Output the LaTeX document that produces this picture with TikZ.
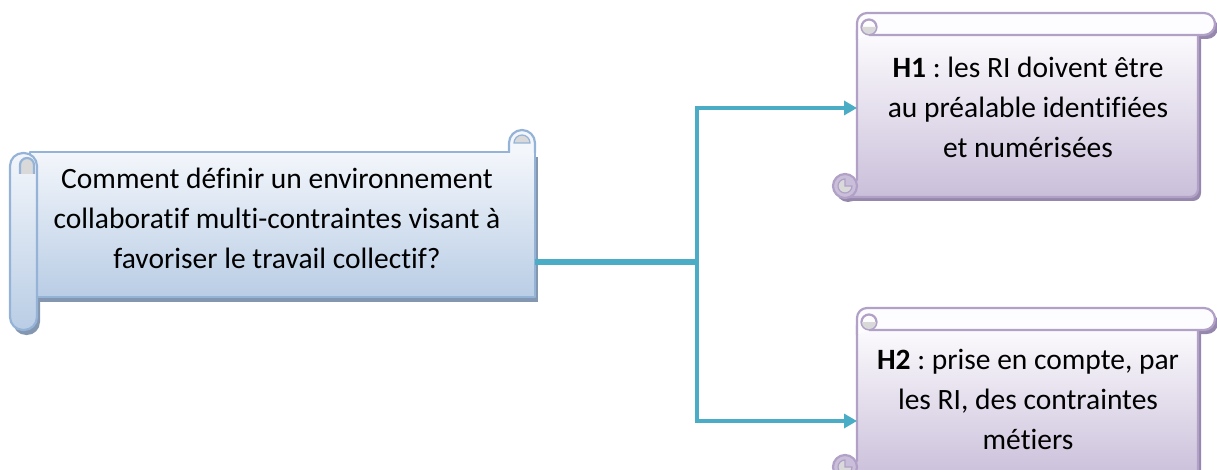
\documentclass[tikz,border=0pt]{standalone}
\usepackage{fontspec}
\setmainfont{Carlito}[Ligatures=NoCommon]
\usetikzlibrary{arrows.meta}
\definecolor{bline}{RGB}{149,179,215}
\definecolor{btop}{RGB}{243,246,251}
\definecolor{bbot}{RGB}{185,205,229}
\definecolor{bshad}{RGB}{132,151,176}
\definecolor{pline}{RGB}{178,161,199}
\definecolor{ptop}{RGB}{253,252,254}
\definecolor{pbot}{RGB}{202,191,218}
\definecolor{pshad}{RGB}{150,135,172}
\definecolor{curl}{RGB}{217,217,217}
\definecolor{conn}{RGB}{75,172,198}
\newcommand\HScroll[3]{%
  \begin{scope}[shift={(3,4)}]
    \fill[pshad] (857,{#1+17}) -- (1198,{#1+17}) -- (1198,{#2-8}) arc(0:90:8) -- (845,#2) -- (845,{#2-17}) -- (857,{#2-17}) -- cycle;
    \fill[pshad] (857,{#1+10}) arc(180:270:10) -- (1204,#1) arc(270:450:11) -- (857,{#1+22}) -- cycle;
    \fill[pshad] (845,{#2-11}) circle (12);
  \end{scope}
  \draw[pout,top color=ptop,bottom color=pbot] (857,{#1+17}) -- (1198,{#1+17}) -- (1198,{#2-8}) arc(0:90:8) -- (845,#2) -- (845,{#2-17}) -- (857,{#2-17}) -- cycle;
  \draw[pout,fill=ptop] (857,{#1+27}) -- (857,{#1+10}) arc(180:270:10) -- (1204,#1) arc(270:450:11) -- (869,{#1+22});
  \draw[pout,fill=ptop] (869,{#1+14}) circle (7.5);
  \fill[curl] (862,{#1+14}) arc(180:0:7) -- cycle;
  \draw[pout] (857,{#1+27}) -- (857,{#2-17});
  \draw[pout,fill=pbot] (845,{#2-11}) circle (12);
  \filldraw[fill=curl,draw=pline,line width=1.2pt] (845,{#2-11}) -- (852,{#2-11}) arc(0:270:7) -- cycle;
  \node[boxnode,minimum width=341pt,minimum height={#2-#1-22}] (#3) at (1027.5,{(#1+22+#2)/2}) {};
}
\frenchspacing
\begin{document}
\begin{tikzpicture}[x=1pt,y=-1pt,
  bout/.style={draw=bline,line width=2.2pt,line join=round},
  pout/.style={draw=pline,line width=2.2pt,line join=round},
  txt/.style={align=center,font=\fontsize{29.5}{40}\selectfont,inner sep=0pt},
  boxnode/.style={inner sep=0pt,outer sep=0pt},
  wire/.style={draw=conn,line width=3.5pt},
  arr/.style={wire,-{Triangle[length=13pt,width=14pt]}}]
\useasboundingbox (0,0) rectangle (1217,470);
\clip (0,0) rectangle (1217,470);

% ---------- left scroll ----------
\begin{scope}[shift={(3,5)}]
  \fill[bshad] (30,152) rectangle (535,297);
  \fill[bshad,rounded corners=13] (10,153) rectangle (37,330);
\end{scope}
\node[boxnode,bout,top color=btop,bottom color=bbot,minimum width=505pt,minimum height=145pt] (qbox) at (282.5,224.5) {};
\draw[bout,top color=btop,bottom color=bbot,rounded corners=13] (10,153) rectangle (37,330);
\draw[bout,fill=curl] (20,174) -- (20,165) arc(180:360:7) -- (34,174);
\draw[bout,fill=btop] (509,153) -- (509,143) arc(180:360:13) -- (535,153);
\draw[draw=bline,line width=1.2pt,fill=curl] (514,143) arc(180:360:8) -- cycle;
\node[txt] (q) at (277,218) {Comment définir un environnement\\collaboratif multi-contraintes visant à\\favoriser le travail collectif?};

% ---------- H scrolls ----------
\HScroll{13}{197}{h1box}
\HScroll{308}{478}{h2box}
\node[txt] (h1) at (1028,107) {\textbf{H1} : les RI doivent être\\au préalable identifiées\\et numérisées};
\node[txt] (h2) at (1028,399) {\textbf{H2} : prise en compte, par\\les RI, des contraintes\\métiers};

% ---------- connectors ----------
\coordinate (j) at (697,262);
\draw[draw=conn,line width=6.5pt] (qbox.east |- j) -- (j);
\draw[arr] (j) |- ([yshift=8pt]h1box.west);
\draw[arr] (j) |- ([yshift=-17pt]h2box.west);
\end{tikzpicture}
\end{document}
